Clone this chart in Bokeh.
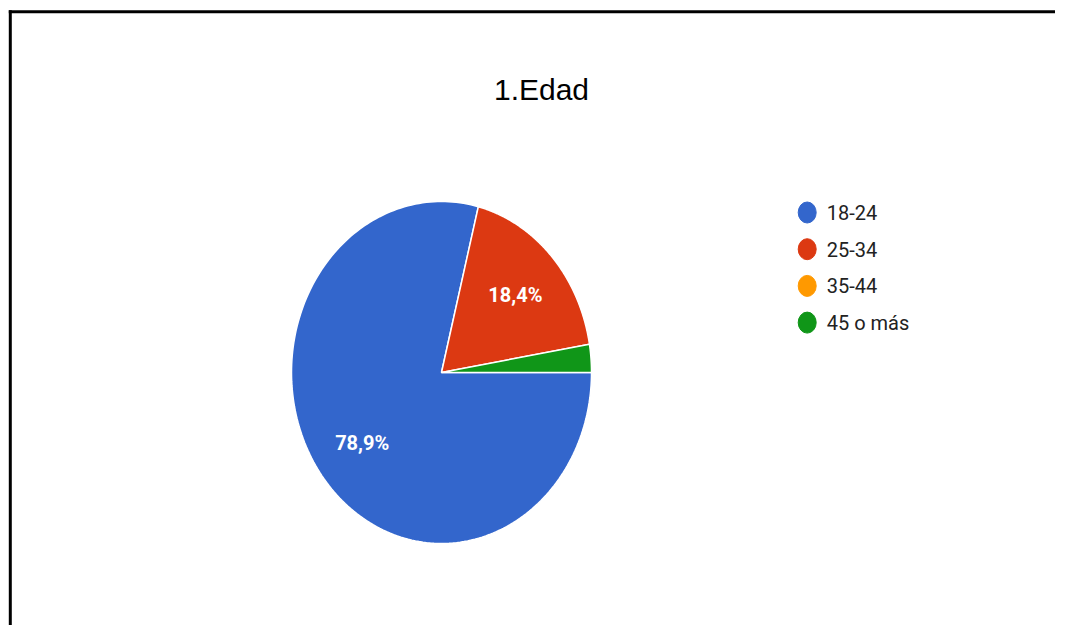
import numpy as np
from bokeh.plotting import figure
from bokeh.models import Range1d, ColumnDataSource
from bokeh.core.properties import value
from bokeh.embed import file_html
from bokeh.resources import INLINE

# ---- data ----
title = "1.Edad"
categories = ["18-24", "25-34", "35-44", "45 o más"]
counts = [30, 7, 0, 1]
colors = ["#3366cc", "#dc3912", "#ff9900", "#109618"]

W, H = 1055, 625
p = figure(width=W, height=H, output_backend="svg", toolbar_location=None,
           x_range=Range1d(0, W), y_range=Range1d(0, H),
           x_axis_location=None, y_axis_location=None, min_border=0)
p.grid.visible = False
p.outline_line_color = None
p.background_fill_color = "white"
p.border_fill_color = "white"

# frame lines (top and left), joined at the corner
top_y, left_x = H - 11.3, 9.8
p.segment(x0=[left_x - 1.5, left_x], y0=[top_y, top_y + 1.5],
          x1=[W + 5, left_x], y1=[top_y, -5],
          line_color="black", line_width=3)

# title
p.text(x=[541], y=[H - 89], text=[title], text_font=value("Liberation Sans"),
       text_font_size="30px", text_align="center", text_baseline="alphabetic",
       text_color="black")

# pie as an ellipse (stretched picture)
cx, cy, rx, ry = 441, H - 372, 150, 171
total = float(sum(counts))
fracs = [c / total for c in counts]
xs, ys, fc, lx, ly, lt = [], [], [], [], [], []
start = 0.0
for f, col in zip(fracs, colors):
    if f <= 0:
        continue
    end = start - 2 * np.pi * f
    t = np.linspace(start, end, 200)
    xs.append(list(np.concatenate([[cx], cx + rx * np.cos(t), [cx]])))
    ys.append(list(np.concatenate([[cy], cy + ry * np.sin(t), [cy]])))
    fc.append(col)
    if f >= 0.05:
        mid = (start + end) / 2
        lx.append(cx + 0.67 * rx * np.cos(mid))
        ly.append(cy + 0.67 * ry * np.sin(mid))
        lt.append(f"{f*100:.1f}%".replace(".", ","))
    start = end

p.patches(xs=xs, ys=ys, fill_color=fc, line_color="white", line_width=1.5)
p.text(x=lx, y=ly, text=lt, text_font=value("Roboto"), text_font_style="bold",
       text_font_size="20px", text_align="center", text_baseline="middle",
       text_color="white")

# legend
lgx, lgy0, step = 806.7, H - 212, 36.7
leg_y = [lgy0 - i * step for i in range(len(categories))]
src = ColumnDataSource(dict(x=[lgx] * len(categories), y=leg_y, c=colors,
                            tx=[lgx + 19.5] * len(categories), t=categories))
p.ellipse(x="x", y="y", width=18, height=21, fill_color="c", line_color="c", source=src)
p.text(x="tx", y="y", text="t", text_font=value("Roboto"), text_font_size="20px",
       text_baseline="middle", text_align="left", text_color="#222222", source=src)

open("out.html", "w").write(file_html(p, INLINE))
